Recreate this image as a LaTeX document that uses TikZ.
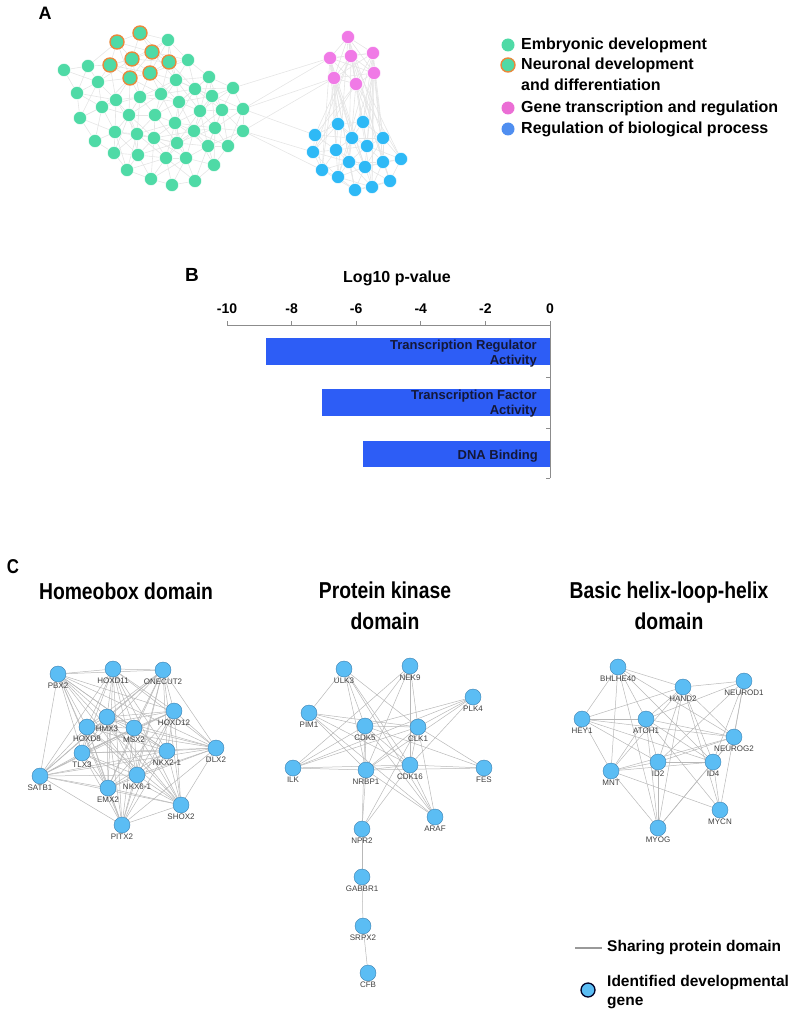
\documentclass[tikz,border=0pt]{standalone}
\usepackage{fontspec}
\usepackage{graphicx}
\setmainfont{Liberation Sans}
\usetikzlibrary{backgrounds,positioning}

\definecolor{embgreen}{HTML}{4FDAA6}
\definecolor{neurorange}{HTML}{E8893C}
\definecolor{genepink}{HTML}{F07AE6}
\definecolor{regblue}{HTML}{2EB9F6}
\definecolor{legblue}{HTML}{4F8EF0}
\definecolor{barblue}{HTML}{2D5DF6}
\definecolor{bartext}{HTML}{141838}
\definecolor{genefill}{HTML}{5BBDF4}
\definecolor{geneedge}{HTML}{3D7FAE}

\newcommand{\narrowtxt}[1]{\scalebox{0.84}[1]{#1}}

\tikzset{
  embryo/.style={circle, fill=embgreen, draw=white, line width=0.4pt, minimum size=13pt, inner sep=0pt},
  neuro/.style={embryo, draw=neurorange, line width=1.4pt, minimum size=14pt},
  gtr/.style={embryo, fill=genepink},
  rbp/.style={embryo, fill=regblue},
  faint/.style={draw=black!10, line width=0.6pt},
  gene/.style={circle, fill=genefill, draw=geneedge, line width=0.4pt, minimum size=16pt, inner sep=0pt},
  glabel/.style={font=\fontsize{8}{8}\selectfont, text=black!75, inner sep=0.5pt},
  share/.style={draw=black!28, line width=0.5pt},
  legtxt/.style={font=\fontsize{16}{20}\selectfont\bfseries, anchor=west, inner sep=0pt},
  paneltitle/.style={font=\fontsize{23}{31}\selectfont\bfseries, align=center},
  axisline/.style={draw=black!45, line width=0.8pt},
  ticklbl/.style={font=\fontsize{14}{16}\selectfont\bfseries, inner sep=0pt},
  bartxt/.style={font=\fontsize{13}{15}\selectfont\bfseries, text=bartext, align=right, anchor=east, inner sep=0pt}
}

\def\emblist{117/42, 140/33, 152/52, 132/59, 110/65, 169/62, 130/78, 150/73,
  168/40, 188/60, 64/70, 88/66, 98/82, 176/80, 209/77, 77/93, 116/100, 140/97,
  161/94, 195/89, 212/96, 233/88, 102/107, 179/102, 200/111, 222/110, 243/109,
  80/118, 129/115, 155/115, 175/123, 215/128, 243/131, 115/132, 137/134, 154/138,
  194/131, 95/141, 177/143, 208/146, 228/146, 114/153, 138/155, 166/158, 186/158,
  214/165, 127/170, 151/179, 172/185, 195/181}
\def\pinklist{348/37, 330/58, 351/56, 373/53, 334/78, 356/84, 374/73}
\def\bluelist{338/124, 363/122, 315/135, 352/138, 383/138, 313/152, 336/150,
  367/146, 349/162, 365/167, 383/162, 401/159, 322/170, 338/177, 390/181,
  355/190, 372/187}

\begin{document}
\begin{tikzpicture}[x=1pt, y=-1pt]
\useasboundingbox (0,0) rectangle (800,1011);

% panel A
\node[font=\fontsize{18}{20}\selectfont\bfseries] (labA) at (45,13) {A};

\foreach \x/\y [count=\i] in \emblist {
  \ifnum\i<9 \node[neuro] (e\i) at (\x,\y) {}; \else \node[embryo] (e\i) at (\x,\y) {}; \fi
}
\foreach \x/\y [count=\i] in \pinklist \node[gtr] (p\i) at (\x,\y) {};
\foreach \x/\y [count=\i] in \bluelist \node[rbp] (b\i) at (\x,\y) {};

\begin{scope}[on background layer]
  \foreach \xa/\ya [count=\i] in \emblist {
    \foreach \xb/\yb [count=\j] in \emblist {
      \ifnum\j>\i
        \pgfmathtruncatemacro\near{((\xa-\xb)/10)^2+((\ya-\yb)/10)^2<17}
        \ifnum\near=1 \draw[faint] (e\i) -- (e\j); \fi
      \fi
    }
  }
  \foreach \xa/\ya [count=\i] in \bluelist {
    \foreach \xb/\yb [count=\j] in \bluelist {
      \ifnum\j>\i
        \pgfmathtruncatemacro\near{((\xa-\xb)/10)^2+((\ya-\yb)/10)^2<15}
        \ifnum\near=1 \draw[faint] (b\i) -- (b\j); \fi
      \fi
    }
  }
  \foreach \i in {1,...,7} {
    \foreach \j in {1,...,7} {
      \ifnum\j>\i \draw[faint] (p\i) -- (p\j); \fi
    }
    \foreach \j in {1,...,17} {
      \pgfmathtruncatemacro\pick{mod(\i+\j,3)==0}
      \ifnum\pick=1 \draw[faint] (p\i) -- (b\j); \fi
    }
  }
  \draw[faint] (e27) -- (p2);
  \draw[faint] (e27) -- (p5);
  \draw[faint] (e22) -- (p2);
  \draw[faint] (e33) -- (p5);
  \draw[faint] (e33) -- (b6);
  \draw[faint] (e33) -- (b13);
  \draw[faint] (e27) -- (b3);
\end{scope}

% legend A
\node[embryo, draw=none] (kEmb) at (508,45) {};
\node[neuro] (kNeu) at (508,65) {};
\node[gtr, draw=none, fill=genepink!90!purple] (kGene) at (508,108) {};
\node[rbp, draw=none, fill=legblue] (kReg) at (508,129) {};
\node[legtxt] (tEmb) at (521,45) {Embryonic development};
\node[legtxt] (tNeu) at (521,65) {Neuronal development};
\node[legtxt] (tNeu2) at (521,85) {and differentiation};
\node[legtxt] (tGene) at (521,108) {Gene transcription and regulation};
\node[legtxt] (tReg) at (521,129) {Regulation of biological process};

% panel B
\node[font=\fontsize{19}{20}\selectfont\bfseries] (labB) at (192,275) {B};
\node[font=\fontsize{16}{18}\selectfont\bfseries] (axtitle) at (397,278) {Log10 p-value};
\draw[axisline] (227,325) -- (550,325);
\foreach \v [count=\k] in {-10,-8,-6,-4,-2,0} {
  \coordinate (tk\k) at ({550+32.3*\v},325);
  \draw[axisline] (tk\k) -- ++(0,-4);
  \node[ticklbl, above=11pt of tk\k] (lbl\k) {\v};
}
\draw[axisline] (550,325) -- (550,478);
\foreach \t in {377,428,478} \draw[axisline] (550,\t) -- ++(-4,0);
\fill[barblue] (266,338) rectangle (550,365);
\fill[barblue] (322,389) rectangle (550,416);
\fill[barblue] (363,441) rectangle (550,467);
\node[bartxt] (bar1) at (537,353.5) {Transcription Regulator\\Activity};
\node[bartxt] (bar2) at (537,404) {Transcription Factor\\Activity};
\node[bartxt] (bar3) at (538,456) {DNA Binding};

% panel C
\node[font=\fontsize{20}{22}\selectfont\bfseries] (labC) at (13,567) {\narrowtxt{C}};
\node[paneltitle] (tHox) at (126,591) {\narrowtxt{Homeobox domain}};
\node[paneltitle] (tKin) at (385,606) {\narrowtxt{Protein kinase}\\\narrowtxt{domain}};
\node[paneltitle] (tHlh) at (669,606) {\narrowtxt{Basic helix-loop-helix}\\\narrowtxt{domain}};

% homeobox domain
\foreach \n/\x/\y in {PBX2/58/674, HOXD11/113/669, ONECUT2/163/670, HOXD12/174/711,
    HMX3/107/717, HOXD8/87/727, MSX2/134/728, NKX2-1/167/751, DLX2/216/748,
    TLX3/82/753, SATB1/40/776, NKX6-1/137/775, EMX2/108/788, SHOX2/181/805, PITX2/122/825}
  \node[gene, label={[glabel]below:\n}] (\n) at (\x,\y) {};
\begin{scope}[on background layer]
  \foreach \a [count=\i] in {PBX2,HOXD11,ONECUT2,HOXD12,HMX3,HOXD8,MSX2,NKX2-1,DLX2,TLX3,SATB1,NKX6-1,EMX2,SHOX2,PITX2} {
    \foreach \b [count=\j] in {PBX2,HOXD11,ONECUT2,HOXD12,HMX3,HOXD8,MSX2,NKX2-1,DLX2,TLX3,SATB1,NKX6-1,EMX2,SHOX2,PITX2} {
      \ifnum\j>\i \draw[share] (\a) -- (\b); \fi
    }
  }
\end{scope}

% protein kinase domain
\foreach \n/\x/\y in {ULK3/344/669, NEK9/410/666, PLK4/473/697, PIM1/309/713,
    CDK5/365/726, CLK1/418/727, ILK/293/768, NRBP1/366/770, CDK16/410/765,
    FES/484/768, ARAF/435/817, NPR2/362/829, GABBR1/362/877, SRPX2/363/926, CFB/368/973}
  \node[gene, label={[glabel]below:\n}] (\n) at (\x,\y) {};
\begin{scope}[on background layer]
  \foreach \a/\b in {ULK3/PIM1, ULK3/CDK5, ULK3/NRBP1, ULK3/CDK16, ULK3/CLK1, ULK3/ARAF,
      NEK9/CDK5, NEK9/CLK1, NEK9/NRBP1, NEK9/ILK, NEK9/CDK16,
      PLK4/CDK5, PLK4/CLK1, PLK4/NRBP1, PLK4/ILK, PLK4/CDK16,
      PIM1/CDK5, PIM1/CLK1, PIM1/NRBP1, PIM1/CDK16, PIM1/ARAF,
      CDK5/CLK1, CDK5/NRBP1, CDK5/CDK16, CDK5/ILK, CDK5/FES, CDK5/NPR2, CDK5/ARAF,
      CLK1/NRBP1, CLK1/CDK16, CLK1/ILK, CLK1/FES, CLK1/ARAF, CLK1/NPR2,
      ILK/NRBP1, ILK/CDK16, NRBP1/CDK16, NRBP1/FES, NRBP1/NPR2, NRBP1/ARAF,
      CDK16/FES, CDK16/ARAF, CDK16/NPR2,
      NPR2/GABBR1, GABBR1/SRPX2, SRPX2/CFB}
    \draw[share] (\a) -- (\b);
\end{scope}

% basic helix-loop-helix domain
\foreach \n/\x/\y in {BHLHE40/618/667, HAND2/683/687, NEUROD1/744/681, HEY1/582/719,
    ATOH1/646/719, NEUROG2/734/737, MNT/611/771, ID2/658/762, ID4/713/762,
    MYCN/720/810, MYOG/658/828}
  \node[gene, label={[glabel]below:\n}] (\n) at (\x,\y) {};
\begin{scope}[on background layer]
  \foreach \a/\b in {BHLHE40/HEY1, BHLHE40/ATOH1, BHLHE40/HAND2, BHLHE40/MNT, BHLHE40/NEUROG2,
      BHLHE40/ID4, BHLHE40/MYOG,
      HAND2/NEUROD1, HAND2/HEY1, HAND2/ATOH1, HAND2/NEUROG2, HAND2/ID2, HAND2/ID4,
      HAND2/MNT, HAND2/MYOG, HAND2/MYCN,
      NEUROD1/NEUROG2, NEUROD1/ID2, NEUROD1/ID4, NEUROD1/MYCN, NEUROD1/ATOH1,
      HEY1/ATOH1, HEY1/MNT, HEY1/NEUROG2, HEY1/ID4, HEY1/ID2,
      ATOH1/NEUROG2, ATOH1/ID2, ATOH1/ID4, ATOH1/MNT, ATOH1/MYOG, ATOH1/MYCN,
      NEUROG2/ID2, NEUROG2/ID4, NEUROG2/MNT, NEUROG2/MYOG,
      MNT/ID2, MNT/ID4, MNT/MYCN, MNT/MYOG,
      ID2/ID4, ID2/MYOG, ID4/MYOG, ID4/MYCN}
    \draw[share] (\a) -- (\b);
\end{scope}

% legend C
\coordinate (shareA) at (575,948);
\coordinate (shareB) at (602,948);
\draw[draw=black!40, line width=2pt] (shareA) -- (shareB);
\node[legtxt, font=\fontsize{15.5}{19}\selectfont\bfseries] (tShare) at (607,948) {Sharing protein domain};
\node[gene, draw=black!85!blue, line width=1.3pt, minimum size=14pt] (kGeneC) at (588,990) {};
\node[legtxt, font=\fontsize{15.5}{19}\selectfont\bfseries, align=left] (tIdent) at (607,992) {Identified developmental\\gene};
\end{tikzpicture}
\end{document}
